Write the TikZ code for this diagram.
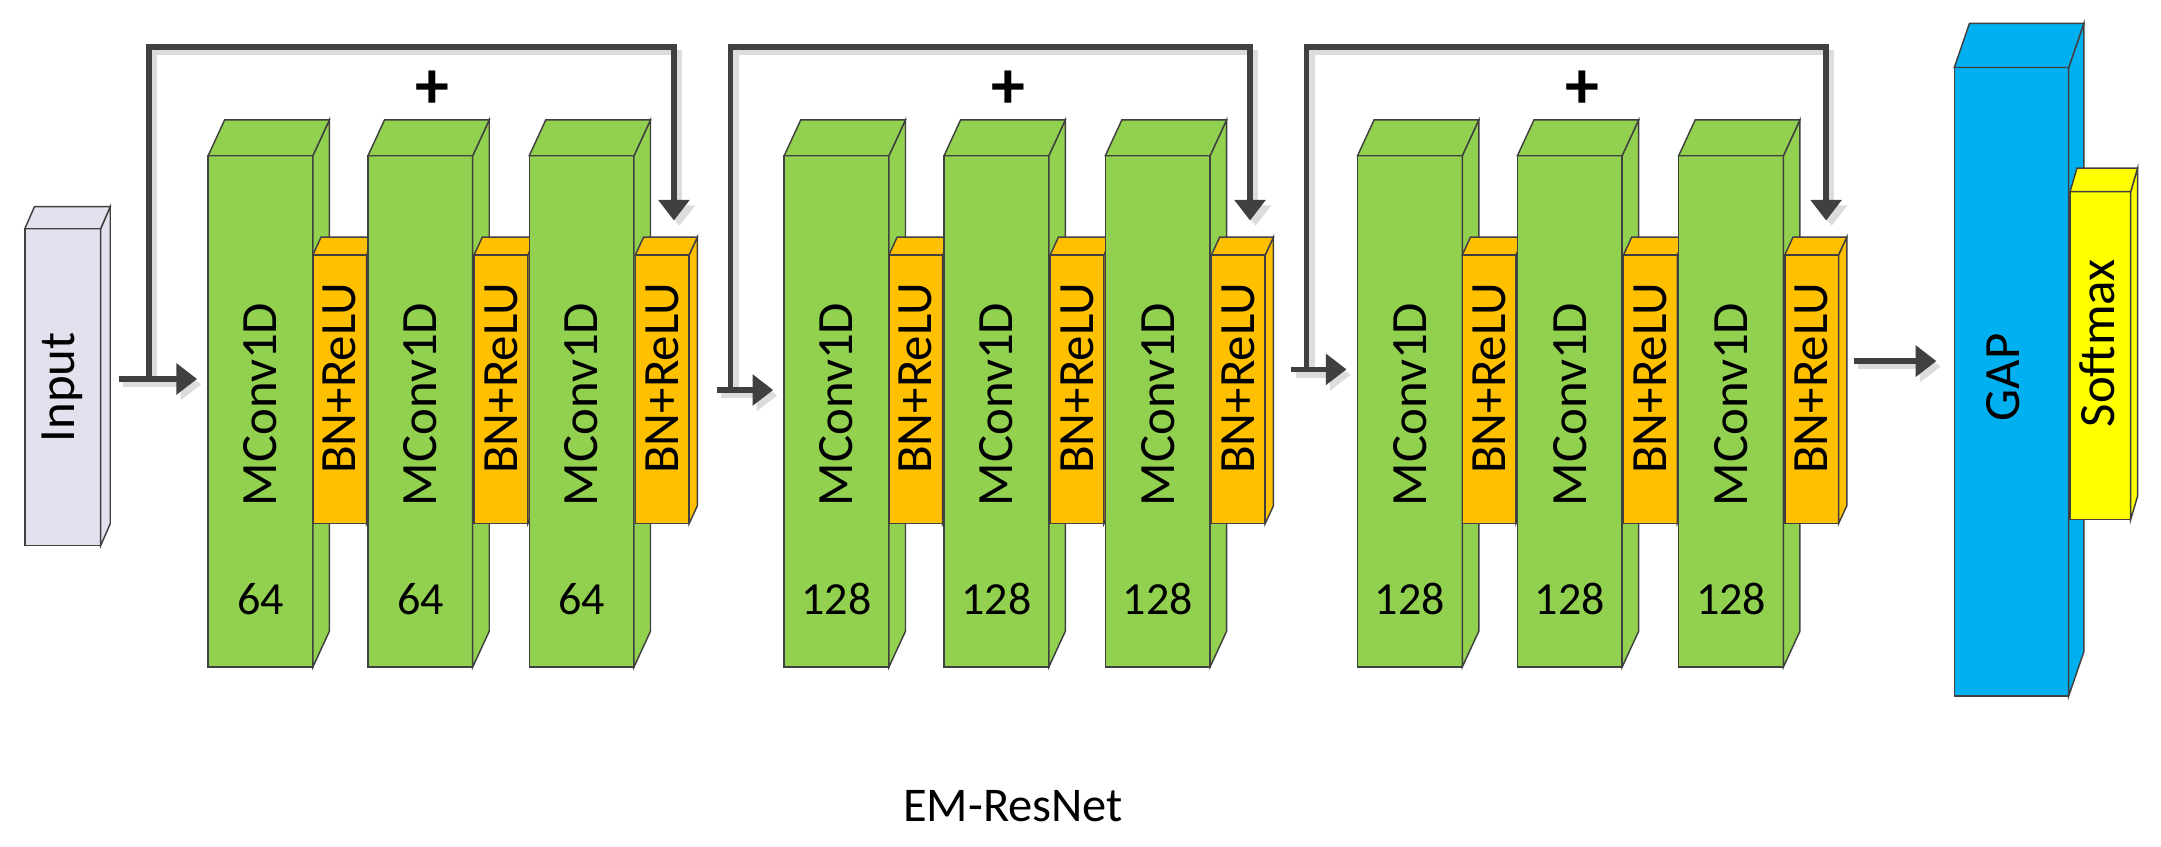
\documentclass[tikz,border=0pt]{standalone}
\usepackage{fontspec}
\setmainfont{Carlito}
\usetikzlibrary{arrows.meta,calc}
\definecolor{edge}{HTML}{404040}
\definecolor{cgreen}{HTML}{92D050}
\definecolor{corange}{HTML}{FFC000}
\definecolor{cblue}{HTML}{00B0F0}
\definecolor{cyellow}{HTML}{FFFF00}
\definecolor{cinput}{HTML}{E4E0EE}
\definecolor{shade}{HTML}{DCDCDC}
\newcommand\cuboid[8]{%
 \node[face,fill=#8,minimum width=#4*0.02cm,minimum height=#5*0.02cm,anchor=north west] (#1) at (#2,#3) {};
 \filldraw[face,fill=#8] (#1.north east) -- ++(#6,#7) -- ++(0,#5) -- (#1.south east) -- cycle;
 \filldraw[face,fill=#8] (#1.north west) -- ++(#6,#7) -- ++(#4,0) -- (#1.north east) -- cycle;
}
\begin{document}
\begin{tikzpicture}[x=0.02cm,y=-0.02cm,
  face/.style={draw=edge,line width=0.6pt,inner sep=0pt,outer sep=0pt},
  txt/.style={font=\fontsize{21}{21}\selectfont,rotate=90,inner sep=0pt},
  num/.style={font=\fontsize{19}{19}\selectfont,inner sep=0pt},
  arr/.style={draw=edge,line width=2.3pt,-{Triangle[width=0.44cm,length=0.3cm]}},
  shd/.style={draw=shade,line width=2.3pt,-{Triangle[width=0.44cm,length=0.3cm]}},
  plus/.style={font=\fontsize{28}{28}\selectfont\bfseries,inner sep=0pt}]
\useasboundingbox (0,0) rectangle (1568,614);

% input
\cuboid{inp}{18}{166}{55}{230}{7}{-16}{cinput}
\node[txt] at (inp.center) {Input};

% three residual blocks
\foreach \b/\ox/\n/\ay/\sx/\sr in {1/0/64/275/108/489, 2/418/128/283/530/907, 3/834/128/268/948/1325}{
  \cuboid{g\b a}{151+\ox}{113}{76}{371}{12}{-26}{cgreen}
  \cuboid{r\b a}{227+\ox}{185}{39}{195}{6}{-13}{corange}
  \cuboid{g\b b}{267+\ox}{113}{76}{371}{12}{-26}{cgreen}
  \cuboid{r\b b}{344+\ox}{185}{39}{195}{6}{-13}{corange}
  \cuboid{g\b c}{384+\ox}{113}{76}{371}{12}{-26}{cgreen}
  \cuboid{r\b c}{461+\ox}{185}{39}{195}{6}{-13}{corange}
  \foreach \k in {a,b,c}{
    \node[txt] at ($(g\b\k.center)+(0,-5)$) {MConv1D};
    \node[num] at ($(g\b\k.center)+(0,136)$) {\n};
    \node[txt] at ($(r\b\k.center)+(0,-8)$) {BN+ReLU};
  }
  \node[plus] (p\b) at (314+\ox,65) {+};
  \coordinate (s\b) at (\sx,\ay);
  \coordinate (t\b) at (\sx,34);
  \coordinate (u\b) at (\sr,34);
  \coordinate (v\b) at (\sr,160);
  \draw[shd] ($(s\b)+(4,4)$) -- ($(t\b)+(4,4)$) -- ($(u\b)+(4,4)$) -- ($(v\b)+(4,4)$);
  \draw[arr] (s\b) -- (t\b) -- (u\b) -- (v\b);
}

% input arrows into blocks
\coordinate (a1) at (86,275);
\coordinate (a2) at (520,283);
\coordinate (a3) at (937,268);
\foreach \b in {1,2,3}{
  \draw[shd,shorten >=8*0.02cm] ($(a\b)+(3,4)$) -- ($(a\b -| g\b a.west)+(3,4)$);
  \draw[arr,shorten >=8*0.02cm] (a\b) -- (a\b -| g\b a.west);
}

% GAP and softmax
\cuboid{gap}{1418}{49}{83}{456}{11}{-32}{cblue}
\cuboid{soft}{1502}{139}{44}{238}{5}{-17}{cyellow}
\node[txt] at ($(gap.center)+(-6,-3)$) {GAP};
\node[txt] at ($(soft.center)+(-2,-9)$) {Softmax};
\coordinate (f) at (1345,262);
\draw[shd,shorten >=13*0.02cm] ($(f)+(3,4)$) -- ($(f -| gap.west)+(3,4)$);
\draw[arr,shorten >=13*0.02cm] (f) -- (f -| gap.west);

\node[font=\fontsize{20}{20}\selectfont] (title) at (735,585) {EM-ResNet};
\end{tikzpicture}
\end{document}
